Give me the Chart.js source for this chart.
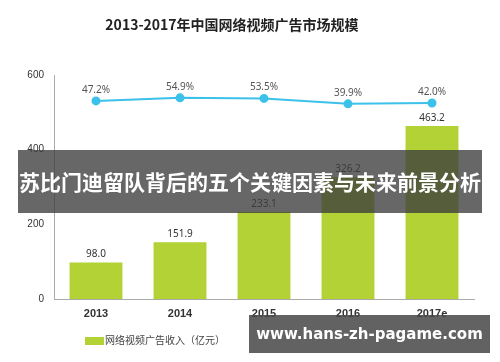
<!DOCTYPE html>
<html>
<head>
<meta charset="utf-8">
<script src="https://cdn.jsdelivr.net/npm/chart.js@4/dist/chart.umd.min.js"></script>
<style>
  body { margin: 0; background: #fff; font-family: "Noto Sans CJK SC", "Noto Sans", sans-serif; }
  #wrap { position: relative; width: 500px; height: 362px; overflow: hidden; }
  #title { position: absolute; left: 0; width: 464px; top: 14px; text-align: center;
           font-size: 14px; font-weight: bold; color: #222; }
  #legend { position: absolute; left: 85px; top: 332px; font-size: 10px; color: #444; }
  #legend span.box { display: inline-block; width: 19px; height: 8px; background: #b2d235;
                     vertical-align: middle; margin-right: 1px; }
  #banner { position: absolute; left: 18px; top: 150px; width: 464px; height: 63px;
            background: rgba(60,60,60,0.78); color: #fff; font-size: 21px; font-weight: bold;
            line-height: 63px; text-align: center; }
  #mark { position: absolute; left: 249px; top: 315px; width: 241px; height: 38px;
          background: rgba(70,70,70,0.85); color: #fff; font-family: "DejaVu Sans", sans-serif;
          font-size: 15px; font-weight: bold; line-height: 38px; text-align: center; }
</style>
</head>
<body>
<div id="wrap">
  <canvas id="chart" width="500" height="362"></canvas>
  <div id="title">2013-2017年中国网络视频广告市场规模</div>
  <div id="legend"><span class="box"></span>网络视频广告收入（亿元）</div>
  <div id="banner">苏比门迪留队背后的五个关键因素与未来前景分析</div>
  <div id="mark">www.hans-zh-pagame.com</div>
</div>
<script>
const years   = ['2013', '2014', '2015', '2016', '2017e'];
const revenue = [98.0, 151.9, 233.1, 326.2, 463.2];
const growth  = [47.2, 54.9, 53.5, 39.9, 42.0];
const yTicks  = [0, 200, 400, 600];

// labels above bars and points
const valueLabels = {
  id: 'valueLabels',
  afterDatasetsDraw(chart) {
    const ctx = chart.ctx;
    ctx.save();
    ctx.textAlign = 'center';
    ctx.textBaseline = 'bottom';
    ctx.font = '10px "Noto Sans", sans-serif';
    chart.getDatasetMeta(1).data.forEach((bar, i) => {
      ctx.fillStyle = '#333';
      ctx.fillText(revenue[i].toFixed(1), bar.x, bar.y - 3);
    });
    chart.getDatasetMeta(0).data.forEach((pt, i) => {
      ctx.fillStyle = '#555';
      ctx.fillText(growth[i].toFixed(1) + '%', pt.x, pt.y - 6);
    });
    ctx.restore();
  }
};

new Chart(document.getElementById('chart'), {
  data: {
    labels: years,
    datasets: [
      {
        type: 'line',
        data: growth,
        yAxisID: 'y2',
        borderColor: '#3cc1ea',
        backgroundColor: '#3cc1ea',
        borderWidth: 2,
        pointRadius: 3.5,
        tension: 0
      },
      {
        type: 'bar',
        data: revenue,
        yAxisID: 'y',
        backgroundColor: '#b2d235',
        categoryPercentage: 0.63,
        barPercentage: 1
      }
    ]
  },
  options: {
    responsive: false,
    animation: false,
    layout: { padding: { top: 75, right: 26 } },
    plugins: { legend: { display: false }, tooltip: { enabled: false } },
    scales: {
      x: {
        grid: { display: false, drawTicks: false },
        border: { color: '#aaa' },
        ticks: { color: '#333', padding: 8, font: { size: 11, weight: '600' } },
        afterFit(s) { s.height = 63; }
      },
      y: {
        min: 0, max: 600,
        afterBuildTicks(s) { s.ticks = yTicks.map(v => ({ value: v })); },
        grid: { display: false, drawTicks: false },
        border: { color: '#aaa' },
        ticks: { color: '#333', padding: 10, font: { size: 10 } },
        afterFit(s) { s.width = 54; }
      },
      y2: { display: false, min: -448, max: 112 }
    }
  },
  plugins: [valueLabels]
});
</script>
</body>
</html>
